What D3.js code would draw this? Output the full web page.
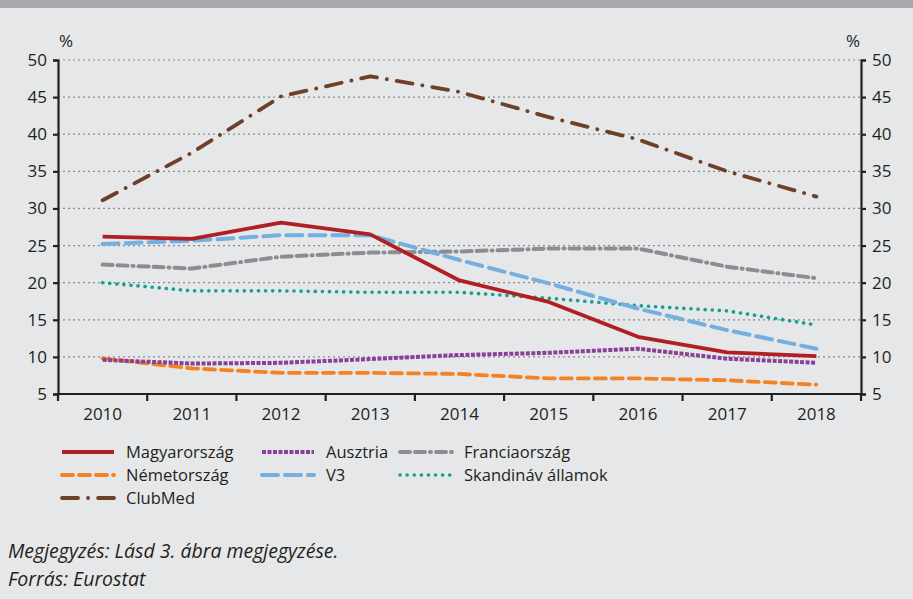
<!DOCTYPE html>
<html>
<head>
<meta charset="utf-8">
<script src="https://cdn.jsdelivr.net/npm/d3@7"></script>
<style>
  body { margin: 0; background: #e6e7e9; }
  svg { display: block; }
</style>
</head>
<body>
<svg id="viz" width="913" height="599"></svg>
<script>
const years = ["2010", "2011", "2012", "2013", "2014", "2015", "2016", "2017", "2018"];
const yTicks = [5, 10, 15, 20, 25, 30, 35, 40, 45, 50];

const magyarorszag = [26.2, 25.9, 28.1, 26.5, 20.3, 17.4, 12.7, 10.6, 10.1];
const ausztria = [9.6, 9.1, 9.2, 9.7, 10.25, 10.55, 11.1, 9.75, 9.2];
const franciaorszag = [22.45, 21.9, 23.5, 24.05, 24.2, 24.6, 24.6, 22.15, 20.6];
const nemetorszag = [9.8, 8.45, 7.85, 7.85, 7.7, 7.1, 7.1, 6.85, 6.25];
const v3 = [25.2, 25.65, 26.4, 26.4, 23.05, 19.9, 16.5, 13.6, 11.1];
const skandinav = [20.0, 18.9, 18.9, 18.7, 18.7, 17.9, 16.9, 16.2, 14.3];
const clubmed = [31.1, 37.5, 45.1, 47.8, 45.7, 42.3, 39.3, 35.0, 31.6];

const series = [
  { name: "Skandináv államok", values: skandinav, color: "#17a090", dash: "0.1,7", cap: "round", w: 3.6 },
  { name: "Németország", values: nemetorszag, color: "#f58220", dash: "11,6", cap: "round", w: 3.8 },
  { name: "Ausztria", values: ausztria, color: "#8a3f98", dash: "4,1.5", cap: "butt", w: 4 },
  { name: "Franciaország", values: franciaorszag, color: "#8c8d90", dash: "10,5,10,5,1,5", cap: "round", w: 4 },
  { name: "V3", values: v3, color: "#74afdf", dash: "16,7", cap: "round", w: 4 },
  { name: "Magyarország", values: magyarorszag, color: "#b01f24", dash: null, cap: "butt", w: 3.8 },
  { name: "ClubMed", values: clubmed, color: "#6e4027", dash: "16,10,0.1,10", cap: "round", w: 3.8 }
];

const legendOrder = ["Magyarország", "Ausztria", "Franciaország", "Németország", "V3", "Skandináv államok", "ClubMed"];

const svg = d3.select("#viz");
const font = "'Open Sans', 'Noto Sans', sans-serif";

// top band
svg.append("rect").attr("x", 0).attr("y", 0).attr("width", 913).attr("height", 8).attr("fill", "#a7a8ab");

const plotLeft = 58, plotRight = 861, plotTop = 60, plotBottom = 394;

const x = d3.scaleBand().domain(years).range([plotLeft, plotRight]);
const y = d3.scaleLinear().domain([5, 50]).range([plotBottom, plotTop]);

// gridlines
svg.append("g")
  .selectAll("line")
  .data(yTicks.filter((d) => d > 5))
  .join("line")
  .attr("x1", plotLeft).attr("x2", plotRight)
  .attr("y1", (d) => y(d)).attr("y2", (d) => y(d))
  .attr("stroke", "#8a8a8a")
  .attr("stroke-width", 1.2)
  .attr("stroke-dasharray", "2,3");

// axes
const yLeft = svg.append("g").attr("transform", `translate(${plotLeft},0)`)
  .call(d3.axisLeft(y).tickValues(yTicks).tickSize(5).tickPadding(6));
const yRight = svg.append("g").attr("transform", `translate(${plotRight},0)`)
  .call(d3.axisRight(y).tickValues(yTicks).tickSize(5).tickPadding(6));
const xAxis = svg.append("g").attr("transform", `translate(0,${plotBottom})`)
  .call(d3.axisBottom(x).tickSize(0).tickPadding(14));

[yLeft, yRight, xAxis].forEach((g) => {
  g.select(".domain").attr("stroke", "#231f20").attr("stroke-width", 2.2);
  g.selectAll(".tick line").attr("stroke", "#231f20").attr("stroke-width", 2.2);
  g.selectAll(".tick text").attr("fill", "#231f20").style("font-size", "17px").style("font-family", font);
});
xAxis.select(".domain").attr("d", `M${plotLeft},0H${plotRight}`);

// category separator ticks on x axis
const sepX = [plotLeft].concat(years.slice(1).map((d) => x(d)), [plotRight]);
xAxis.append("g")
  .selectAll("line")
  .data(sepX)
  .join("line")
  .attr("x1", (d) => d).attr("x2", (d) => d)
  .attr("y1", 0).attr("y2", 7)
  .attr("stroke", "#231f20").attr("stroke-width", 2.2);

// % units
svg.append("text").attr("x", 66).attr("y", 47).attr("text-anchor", "middle")
  .style("font-family", font).style("font-size", "17px").attr("fill", "#231f20").text("%");
svg.append("text").attr("x", 853).attr("y", 47).attr("text-anchor", "middle")
  .style("font-family", font).style("font-size", "17px").attr("fill", "#231f20").text("%");

// lines
const line = d3.line()
  .x((d, i) => x(years[i]) + x.bandwidth() / 2)
  .y((d) => y(d));

svg.append("g")
  .selectAll("path")
  .data(series)
  .join("path")
  .attr("d", (d) => line(d.values))
  .attr("fill", "none")
  .attr("stroke", (d) => d.color)
  .attr("stroke-width", (d) => d.w)
  .attr("stroke-linecap", (d) => d.cap)
  .attr("stroke-linejoin", "round")
  .attr("stroke-dasharray", (d) => d.dash);

// legend
const legCols = [60, 260, 398];
const legRows = [452, 475, 498];
const leg = svg.append("g")
  .selectAll("g")
  .data(legendOrder.map((n) => series.find((s) => s.name === n)))
  .join("g")
  .attr("transform", (d, i) => `translate(${legCols[i % 3]},${legRows[Math.floor(i / 3)]})`);

leg.append("line")
  .attr("x1", 2).attr("x2", 54)
  .attr("y1", 0).attr("y2", 0)
  .attr("stroke", (d) => d.color)
  .attr("stroke-width", (d) => d.w)
  .attr("stroke-linecap", (d) => d.cap)
  .attr("stroke-dasharray", (d) => d.dash);

leg.append("text")
  .attr("x", 66).attr("y", 6)
  .style("font-family", font).style("font-size", "16.5px")
  .attr("fill", "#231f20")
  .text((d) => d.name);

// notes
svg.append("text").attr("x", 8).attr("y", 558)
  .style("font-family", font).style("font-size", "19.5px").style("font-style", "italic")
  .attr("fill", "#231f20").text("Megjegyzés: Lásd 3. ábra megjegyzése.");
svg.append("text").attr("x", 8).attr("y", 586)
  .style("font-family", font).style("font-size", "19.5px").style("font-style", "italic")
  .attr("fill", "#231f20").text("Forrás: Eurostat");
</script>
</body>
</html>
